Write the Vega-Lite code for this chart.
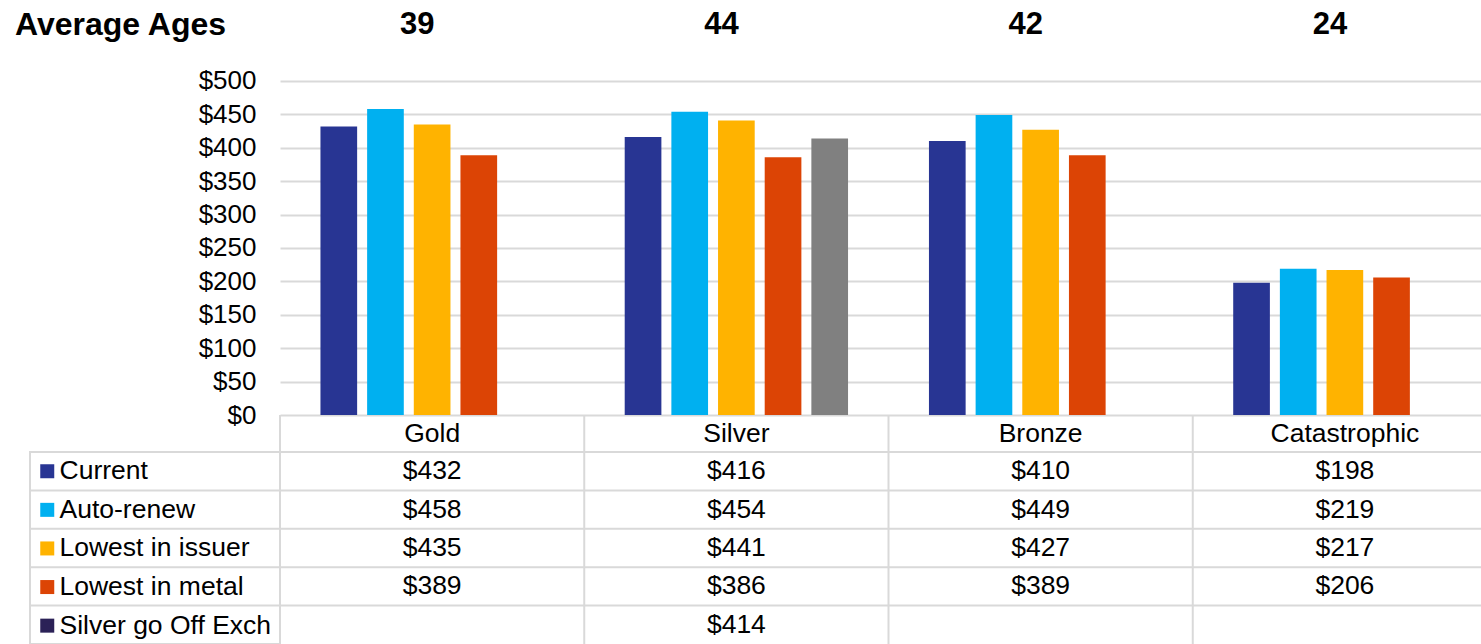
{
  "$schema": "https://vega.github.io/schema/vega-lite/v6.json",
  "autosize": {"type": "pad"},
  "padding": {"left": 15, "top": 0, "right": 0, "bottom": 0},
  "background": "white",
  "config": {
    "font": "Liberation Sans",
    "view": {"stroke": null},
    "text": {"color": "#000000"}
  },
  "datasets": {
    "prices": [
      {"category": "Gold", "series": "Current", "value": 432},
      {"category": "Gold", "series": "Auto-renew", "value": 458},
      {"category": "Gold", "series": "Lowest in issuer", "value": 435},
      {"category": "Gold", "series": "Lowest in metal", "value": 389},
      {"category": "Silver", "series": "Current", "value": 416},
      {"category": "Silver", "series": "Auto-renew", "value": 454},
      {"category": "Silver", "series": "Lowest in issuer", "value": 441},
      {"category": "Silver", "series": "Lowest in metal", "value": 386},
      {"category": "Silver", "series": "Silver go Off Exch", "value": 414},
      {"category": "Bronze", "series": "Current", "value": 410},
      {"category": "Bronze", "series": "Auto-renew", "value": 449},
      {"category": "Bronze", "series": "Lowest in issuer", "value": 427},
      {"category": "Bronze", "series": "Lowest in metal", "value": 389},
      {"category": "Catastrophic", "series": "Current", "value": 198},
      {"category": "Catastrophic", "series": "Auto-renew", "value": 219},
      {"category": "Catastrophic", "series": "Lowest in issuer", "value": 217},
      {"category": "Catastrophic", "series": "Lowest in metal", "value": 206}
    ],
    "ages": [
      {"category": "Gold", "age": 39},
      {"category": "Silver", "age": 44},
      {"category": "Bronze", "age": 42},
      {"category": "Catastrophic", "age": 24}
    ],
    "series": [
      {"series": "Current"},
      {"series": "Auto-renew"},
      {"series": "Lowest in issuer"},
      {"series": "Lowest in metal"},
      {"series": "Silver go Off Exch"}
    ],
    "cats": [
      {"category": "Gold"},
      {"category": "Silver"},
      {"category": "Bronze"},
      {"category": "Catastrophic"}
    ],
    "heading": [{"label": "Average Ages"}]
  },
  "columns": 2,
  "spacing": 0,
  "bounds": "flush",
  "align": "each",
  "resolve": {"scale": {"color": "independent"}, "legend": {"color": "independent"}},
  "concat": [
    {
      "width": 250,
      "height": 48,
      "data": {"name": "heading"},
      "mark": {"type": "text", "align": "left", "baseline": "middle", "fontSize": 32, "fontWeight": "bold", "dx": -15, "dy": 1},
      "encoding": {
        "x": {"value": 0},
        "text": {"field": "label", "type": "nominal"}
      }
    },
    {
      "width": 1201,
      "height": 48,
      "data": {"name": "ages"},
      "mark": {"type": "text", "baseline": "middle", "fontSize": 31, "fontWeight": "bold", "dx": -15, "dy": 1},
      "encoding": {
        "x": {"field": "category", "type": "nominal", "scale": {"type": "band", "domain": ["Gold", "Silver", "Bronze", "Catastrophic"], "range": [0, 1217], "paddingInner": 0, "paddingOuter": 0}, "axis": null},
        "text": {"field": "age", "type": "quantitative"}
      }
    },
    {
      "width": 250,
      "height": 367,
      "data": {"values": [{}]},
      "mark": {"type": "text", "text": ""}
    },
    {
      "width": 1201,
      "height": 367,
      "data": {"name": "prices"},
      "mark": {"type": "bar"},
      "encoding": {
        "x": {"field": "category", "type": "nominal", "scale": {"type": "band", "domain": ["Gold", "Silver", "Bronze", "Catastrophic"], "range": [0, 1217], "paddingInner": 0, "paddingOuter": 0}, "axis": null},
        "xOffset": {"field": "series", "type": "nominal", "scale": {"domain": ["Current", "Auto-renew", "Lowest in issuer", "Lowest in metal", "Silver go Off Exch"], "paddingInner": 0.214, "paddingOuter": 0.867}},
        "y": {
          "field": "value",
          "type": "quantitative",
          "scale": {"domain": [0, 549.4], "nice": false, "zero": true},
          "axis": {
            "values": [0, 50, 100, 150, 200, 250, 300, 350, 400, 450, 500],
            "format": "$,.0f",
            "title": null,
            "domain": false,
            "ticks": false,
            "grid": true,
            "gridColor": "#d9d9d9",
            "gridWidth": 2,
            "labelPadding": 24,
            "labelFontSize": 26,
            "labelColor": "#000000"
          }
        },
        "color": {
          "field": "series",
          "type": "nominal",
          "scale": {"domain": ["Current", "Auto-renew", "Lowest in issuer", "Lowest in metal", "Silver go Off Exch"], "range": ["#283593", "#00b0f0", "#ffb300", "#dc4405", "#808080"]},
          "legend": null
        }
      }
    },
    {
      "width": 250,
      "height": 37,
      "data": {"values": [{}]},
      "mark": {"type": "text", "text": ""}
    },
    {
      "width": 1201,
      "height": 37,
      "data": {"name": "cats"},
      "layer": [
        {
          "mark": {"type": "rule", "color": "#d9d9d9", "strokeWidth": 2},
          "encoding": {
            "x": {"field": "category", "type": "nominal", "bandPosition": 0, "scale": {"type": "band", "domain": ["Gold", "Silver", "Bronze", "Catastrophic"], "range": [0, 1217], "paddingInner": 0, "paddingOuter": 0}, "axis": null}
          }
        },
        {
          "mark": {"type": "text", "fontSize": 26.5, "baseline": "middle"},
          "encoding": {
            "x": {"field": "category", "type": "nominal", "scale": {"type": "band", "domain": ["Gold", "Silver", "Bronze", "Catastrophic"], "range": [0, 1217], "paddingInner": 0, "paddingOuter": 0}, "axis": null},
            "text": {"field": "category", "type": "nominal"}
          }
        }
      ]
    },
    {
      "width": 250,
      "height": 192,
      "view": {"stroke": "#d9d9d9", "strokeWidth": 2},
      "data": {"name": "series"},
      "layer": [
        {
          "mark": {"type": "rule", "color": "#d9d9d9", "strokeWidth": 2},
          "encoding": {
            "y": {"field": "series", "type": "nominal", "bandPosition": 0, "scale": {"type": "band", "domain": ["Current", "Auto-renew", "Lowest in issuer", "Lowest in metal", "Silver go Off Exch"], "paddingInner": 0, "paddingOuter": 0}, "axis": null}
          }
        },
        {
          "mark": {"type": "square", "opacity": 0},
          "encoding": {
            "y": {"field": "series", "type": "nominal", "scale": {"type": "band", "domain": ["Current", "Auto-renew", "Lowest in issuer", "Lowest in metal", "Silver go Off Exch"], "paddingInner": 0, "paddingOuter": 0}, "axis": null},
            "color": {
              "field": "series",
              "type": "nominal",
              "scale": {"domain": ["Current", "Auto-renew", "Lowest in issuer", "Lowest in metal", "Silver go Off Exch"], "range": ["#283593", "#00b0f0", "#ffb300", "#dc4405", "#2b2157"]},
              "legend": {
                "orient": "none",
                "legendX": 4,
                "legendY": 6,
                "title": null,
                "padding": 0,
                "symbolType": "square",
                "symbolSize": 196,
                "symbolOpacity": 1,
                "symbolStrokeWidth": 0,
                "labelFontSize": 26.5,
                "labelColor": "#000000",
                "labelOffset": -1,
                "labelLimit": 400,
                "rowPadding": 11.6
              }
            }
          }
        }
      ]
    },
    {
      "width": 1201,
      "height": 192,
      "layer": [
        {
          "data": {"name": "series"},
          "mark": {"type": "rule", "color": "#d9d9d9", "strokeWidth": 2},
          "encoding": {
            "y": {"field": "series", "type": "nominal", "bandPosition": 0, "scale": {"type": "band", "domain": ["Current", "Auto-renew", "Lowest in issuer", "Lowest in metal", "Silver go Off Exch"], "paddingInner": 0, "paddingOuter": 0}, "axis": null}
          }
        },
        {
          "data": {"name": "cats"},
          "mark": {"type": "rule", "color": "#d9d9d9", "strokeWidth": 2},
          "encoding": {
            "x": {"field": "category", "type": "nominal", "bandPosition": 0, "scale": {"type": "band", "domain": ["Gold", "Silver", "Bronze", "Catastrophic"], "range": [0, 1217], "paddingInner": 0, "paddingOuter": 0}, "axis": null}
          }
        },
        {
          "data": {"name": "prices"},
          "mark": {"type": "text", "fontSize": 26.5, "baseline": "middle"},
          "encoding": {
            "x": {"field": "category", "type": "nominal", "scale": {"type": "band", "domain": ["Gold", "Silver", "Bronze", "Catastrophic"], "range": [0, 1217], "paddingInner": 0, "paddingOuter": 0}, "axis": null},
            "y": {"field": "series", "type": "nominal", "scale": {"type": "band", "domain": ["Current", "Auto-renew", "Lowest in issuer", "Lowest in metal", "Silver go Off Exch"], "paddingInner": 0, "paddingOuter": 0}, "axis": null},
            "text": {"field": "value", "type": "quantitative", "format": "$,.0f"}
          }
        }
      ]
    }
  ]
}
